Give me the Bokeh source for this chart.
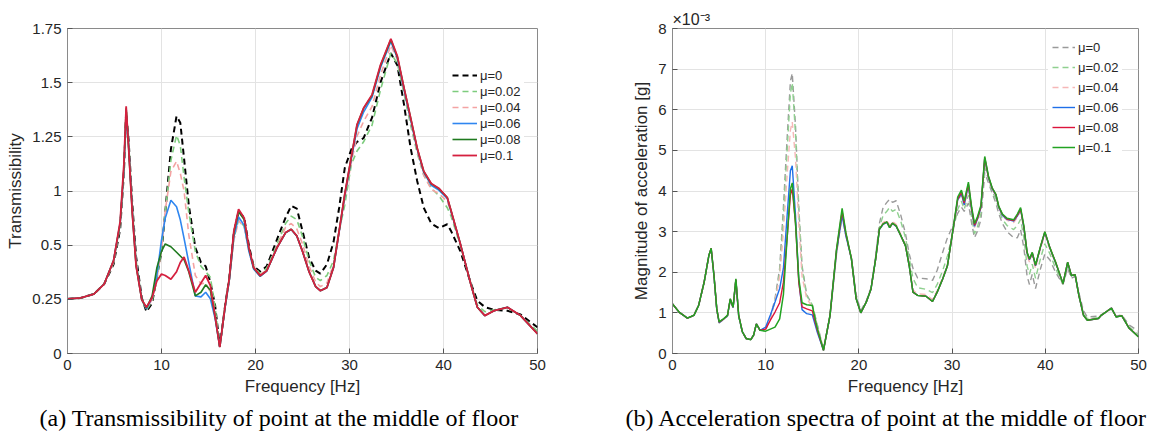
from bokeh.plotting import figure
from bokeh.models import (Legend, LegendItem, Title, FixedTicker,
                          Range1d, CustomJSTickFormatter)
from bokeh.layouts import row
from bokeh.embed import file_html
from bokeh.resources import INLINE

# ---------------- (a) Transmissibility ----------------
freq_a = [
    0, 1.4, 2.8, 3.9, 4.9, 5.6, 6.0, 6.24, 6.5, 6.9,
    7.3, 7.9, 8.4, 9.0, 9.5, 10.0, 10.4, 11.0, 11.6, 12.0,
    12.4, 12.9, 13.6, 14.2, 14.7, 15.2, 15.7, 16.2, 16.8, 17.2,
    17.7, 18.2, 18.8, 19.3, 19.8, 20.5, 21.2, 22.3, 23.2, 23.8,
    24.4, 25.0, 25.7, 26.4, 26.9, 27.6, 28.3, 28.9, 29.5, 30.2,
    30.8, 31.5, 32.4, 33.3, 34.4, 35.1, 35.8, 36.5, 37.2, 37.9,
    38.7, 39.5, 40.4, 40.8, 41.8, 42.9, 43.6, 44.4, 45.4, 46.8,
    48.2, 50]

trans_mu0 = [
    0.294, 0.299, 0.32, 0.374, 0.48, 0.67, 0.97, 1.30, 1.15, 0.80,
    0.52, 0.30, 0.225, 0.27, 0.41, 0.55, 0.76, 1.10, 1.278, 1.242,
    1.05, 0.80, 0.57, 0.49, 0.47, 0.383, 0.26, 0.04, 0.27, 0.40,
    0.65, 0.765, 0.73, 0.58, 0.47, 0.442, 0.47, 0.616, 0.732, 0.795,
    0.78, 0.66, 0.517, 0.446, 0.43, 0.48, 0.60, 0.785, 1.00, 1.10,
    1.14, 1.16, 1.27, 1.46, 1.617, 1.55, 1.34, 1.107, 0.929, 0.785,
    0.70, 0.675, 0.696, 0.66, 0.55, 0.38, 0.284, 0.25, 0.235, 0.23,
    0.21, 0.141]

trans_mu002 = [
    0.294, 0.299, 0.32, 0.374, 0.49, 0.69, 0.98, 1.31, 1.14, 0.78,
    0.50, 0.29, 0.235, 0.28, 0.40, 0.56, 0.76, 1.04, 1.175, 1.12,
    0.95, 0.76, 0.55, 0.47, 0.44, 0.41, 0.25, 0.035, 0.26, 0.39,
    0.62, 0.72, 0.685, 0.56, 0.47, 0.43, 0.46, 0.59, 0.70, 0.74,
    0.72, 0.63, 0.50, 0.41, 0.392, 0.42, 0.50, 0.66, 0.80, 1.02,
    1.09, 1.14, 1.23, 1.42, 1.617, 1.56, 1.40, 1.23, 1.08, 0.96,
    0.89, 0.85, 0.785, 0.74, 0.58, 0.38, 0.26, 0.225, 0.235, 0.245,
    0.205, 0.12]

trans_mu004 = [
    0.294, 0.299, 0.32, 0.374, 0.49, 0.69, 0.98, 1.30, 1.13, 0.77,
    0.49, 0.29, 0.24, 0.29, 0.40, 0.56, 0.77, 0.98, 1.035, 0.97,
    0.875, 0.64, 0.42, 0.375, 0.38, 0.33, 0.21, 0.035, 0.26, 0.39,
    0.61, 0.715, 0.68, 0.55, 0.465, 0.425, 0.45, 0.58, 0.68, 0.70,
    0.67, 0.59, 0.47, 0.385, 0.36, 0.38, 0.48, 0.66, 0.84, 1.03,
    1.17, 1.25, 1.33, 1.50, 1.66, 1.58, 1.42, 1.25, 1.09, 0.96,
    0.885, 0.86, 0.82, 0.76, 0.589, 0.374, 0.25, 0.205, 0.232, 0.248,
    0.204, 0.108]

trans_mu006 = [
    0.294, 0.299, 0.32, 0.374, 0.50, 0.70, 0.99, 1.29, 1.12, 0.76,
    0.48, 0.29, 0.24, 0.30, 0.42, 0.61, 0.73, 0.825, 0.79, 0.72,
    0.62, 0.49, 0.31, 0.305, 0.33, 0.295, 0.19, 0.035, 0.26, 0.39,
    0.63, 0.735, 0.69, 0.55, 0.455, 0.415, 0.444, 0.57, 0.65, 0.668,
    0.632, 0.55, 0.44, 0.36, 0.338, 0.355, 0.463, 0.655, 0.85, 1.05,
    1.21, 1.30, 1.38, 1.54, 1.68, 1.59, 1.42, 1.26, 1.10, 0.975,
    0.905, 0.88, 0.835, 0.765, 0.589, 0.374, 0.249, 0.204, 0.231, 0.249,
    0.204, 0.106]

trans_mu008 = [
    0.294, 0.299, 0.32, 0.374, 0.50, 0.70, 1.00, 1.32, 1.11, 0.75,
    0.47, 0.29, 0.245, 0.31, 0.46, 0.55, 0.59, 0.575, 0.545, 0.525,
    0.505, 0.44, 0.31, 0.33, 0.37, 0.34, 0.20, 0.035, 0.267, 0.40,
    0.65, 0.765, 0.72, 0.565, 0.46, 0.418, 0.446, 0.571, 0.651, 0.669,
    0.633, 0.55, 0.44, 0.36, 0.338, 0.355, 0.463, 0.66, 0.86, 1.06,
    1.23, 1.32, 1.39, 1.55, 1.69, 1.595, 1.43, 1.27, 1.105, 0.98,
    0.913, 0.888, 0.84, 0.77, 0.589, 0.374, 0.249, 0.204, 0.231, 0.249,
    0.204, 0.106]

trans_mu01 = [
    0.294, 0.299, 0.32, 0.374, 0.50, 0.71, 1.02, 1.331, 1.11, 0.75,
    0.47, 0.29, 0.249, 0.30, 0.39, 0.428, 0.42, 0.40, 0.44, 0.49,
    0.52, 0.446, 0.33, 0.38, 0.42, 0.365, 0.20, 0.034, 0.267, 0.40,
    0.66, 0.777, 0.73, 0.57, 0.463, 0.419, 0.446, 0.571, 0.651, 0.669,
    0.633, 0.55, 0.44, 0.36, 0.338, 0.355, 0.463, 0.66, 0.86, 1.06,
    1.233, 1.322, 1.394, 1.555, 1.695, 1.60, 1.43, 1.27, 1.107, 0.982,
    0.915, 0.89, 0.84, 0.77, 0.589, 0.374, 0.249, 0.204, 0.231, 0.249,
    0.204, 0.106]

y_tick_labels_a = ["0", "0.25", "0.5", "1", "1.25", "1.5", "1.75"]

# ---------------- (b) Acceleration spectra (x10^-3 g) ----------------
freq_b = [
    0, 0.7, 1.6, 2.3, 2.8, 3.4, 3.9, 4.15, 4.45, 4.75,
    5.0, 5.5, 5.9, 6.2, 6.5, 6.8, 7.1, 7.5, 7.9, 8.4,
    8.7, 9.0, 9.4, 10.0, 10.5, 11.0, 11.5, 11.9, 12.3, 12.65,
    12.85, 13.2, 13.55, 13.9, 14.4, 15.0, 15.5, 16.2, 16.9, 17.6,
    18.2, 18.6, 19.2, 19.7, 20.2, 20.8, 21.3, 21.8, 22.2, 22.6,
    23.0, 23.3, 23.6, 24.0, 24.5, 25.0, 25.4, 25.8, 26.3, 27.2,
    27.9, 28.4, 29.0, 29.5, 30.0, 30.6, 31.0, 31.3, 31.75, 32.1,
    32.4, 32.7, 33.1, 33.5, 33.9, 34.3, 34.7, 35.0, 35.4, 35.9,
    36.6, 37.0, 37.35, 37.7, 38.05, 38.3, 38.6, 38.95, 39.5, 39.95,
    40.5, 41.1, 41.9, 42.4, 42.8, 43.2, 43.6, 44.1, 44.5, 45.7,
    46.0, 47.1, 47.6, 48.2, 49.0, 50]

acc_mu0 = [
    1.22, 1.02, 0.87, 0.94, 1.18, 1.76, 2.41, 2.57, 1.90, 1.08,
    0.75, 0.84, 0.92, 1.32, 1.12, 1.80, 0.92, 0.52, 0.36, 0.34,
    0.45, 0.72, 0.57, 0.60, 0.90, 1.35, 2.10, 3.60, 5.30, 6.70,
    6.90, 5.60, 3.60, 2.16, 1.45, 1.20, 0.75, 0.10, 0.92, 2.45,
    3.40, 2.90, 2.35, 1.45, 1.05, 1.30, 1.62, 2.40, 3.20, 3.60,
    3.72, 3.80, 3.72, 3.76, 3.40, 2.95, 2.45, 2.10, 1.86, 1.84,
    1.80, 2.05, 2.50, 2.85, 3.10, 3.45, 3.60, 3.50, 3.70, 3.20,
    2.85, 3.00, 3.30, 4.45, 4.20, 3.95, 3.70, 3.45, 3.20, 3.00,
    2.85, 2.85, 3.05, 2.60, 1.90, 1.70, 1.95, 1.60, 2.10, 2.45,
    2.30, 2.00, 1.70, 2.10, 1.85, 1.90, 1.50, 1.05, 0.90, 0.92,
    0.95, 1.10, 0.92, 0.95, 0.70, 0.55]

acc_mu002 = [
    1.22, 1.02, 0.87, 0.94, 1.18, 1.76, 2.41, 2.58, 1.91, 1.09,
    0.76, 0.85, 0.93, 1.33, 1.13, 1.81, 0.93, 0.53, 0.37, 0.34,
    0.45, 0.73, 0.57, 0.60, 0.88, 1.30, 2.00, 3.40, 5.00, 6.40,
    6.66, 5.40, 3.50, 2.10, 1.42, 1.20, 0.72, 0.10, 0.92, 2.50,
    3.45, 2.95, 2.35, 1.40, 1.02, 1.28, 1.60, 2.35, 3.10, 3.40,
    3.50, 3.60, 3.50, 3.55, 3.25, 2.85, 2.35, 1.85, 1.62, 1.58,
    1.50, 1.70, 2.05, 2.40, 2.90, 3.55, 3.75, 3.55, 3.90, 3.35,
    2.95, 3.10, 3.45, 4.60, 4.28, 4.00, 3.80, 3.55, 3.30, 3.15,
    3.05, 3.15, 3.30, 2.85, 2.15, 1.95, 2.20, 1.85, 2.35, 2.70,
    2.45, 2.10, 1.70, 2.15, 1.90, 1.92, 1.45, 0.98, 0.86, 0.88,
    0.95, 1.10, 0.90, 0.94, 0.65, 0.48]

acc_mu004 = [
    1.22, 1.02, 0.87, 0.94, 1.18, 1.76, 2.41, 2.58, 1.91, 1.09,
    0.76, 0.85, 0.93, 1.33, 1.13, 1.81, 0.93, 0.53, 0.37, 0.34,
    0.45, 0.73, 0.57, 0.60, 0.88, 1.28, 1.90, 3.00, 4.40, 5.50,
    5.70, 4.80, 3.20, 1.90, 1.35, 1.15, 0.70, 0.10, 0.93, 2.52,
    3.45, 2.95, 2.35, 1.38, 1.01, 1.27, 1.59, 2.33, 3.06, 3.22,
    3.28, 3.15, 3.25, 3.18, 2.93, 2.68, 2.20, 1.56, 1.47, 1.45,
    1.33, 1.55, 1.87, 2.20, 2.90, 3.75, 3.90, 3.65, 4.05, 3.50,
    3.10, 3.25, 3.55, 4.75, 4.32, 4.04, 3.88, 3.60, 3.38, 3.28,
    3.22, 3.35, 3.50, 3.05, 2.40, 2.25, 2.42, 2.10, 2.60, 2.92,
    2.55, 2.22, 1.72, 2.22, 1.92, 1.94, 1.44, 0.95, 0.83, 0.87,
    0.94, 1.11, 0.91, 0.94, 0.63, 0.43]

acc_mu006 = [
    1.22, 1.02, 0.87, 0.94, 1.18, 1.76, 2.41, 2.58, 1.91, 1.09,
    0.76, 0.85, 0.93, 1.33, 1.13, 1.81, 0.93, 0.53, 0.37, 0.34,
    0.45, 0.73, 0.57, 0.65, 0.95, 1.27, 1.60, 2.10, 3.40, 4.50,
    4.62, 3.40, 1.80, 1.08, 0.98, 0.95, 0.55, 0.08, 0.93, 2.52,
    3.40, 2.90, 2.33, 1.36, 1.00, 1.27, 1.59, 2.33, 3.05, 3.18,
    3.23, 3.10, 3.20, 3.13, 2.90, 2.65, 2.16, 1.51, 1.43, 1.41,
    1.28, 1.51, 1.84, 2.16, 2.90, 3.78, 3.93, 3.66, 4.14, 3.53,
    3.13, 3.29, 3.60, 4.80, 4.34, 4.06, 3.90, 3.61, 3.40, 3.30,
    3.26, 3.38, 3.55, 3.10, 2.47, 2.31, 2.47, 2.16, 2.63, 2.98,
    2.59, 2.24, 1.72, 2.24, 1.92, 1.94, 1.43, 0.94, 0.82, 0.86,
    0.94, 1.12, 0.90, 0.93, 0.62, 0.42]

acc_mu008 = [
    1.22, 1.02, 0.87, 0.94, 1.18, 1.76, 2.41, 2.59, 1.92, 1.10,
    0.77, 0.85, 0.94, 1.34, 1.14, 1.82, 0.94, 0.53, 0.37, 0.34,
    0.45, 0.73, 0.57, 0.60, 0.82, 1.02, 1.25, 1.75, 2.85, 3.90,
    4.05, 3.20, 1.75, 1.15, 1.10, 1.05, 0.60, 0.08, 0.94, 2.55,
    3.50, 2.95, 2.33, 1.35, 1.00, 1.27, 1.59, 2.33, 3.06, 3.19,
    3.24, 3.10, 3.21, 3.14, 2.90, 2.65, 2.16, 1.51, 1.43, 1.41,
    1.28, 1.51, 1.84, 2.16, 2.90, 3.80, 3.97, 3.70, 4.17, 3.56,
    3.16, 3.31, 3.62, 4.82, 4.35, 4.07, 3.91, 3.62, 3.42, 3.31,
    3.27, 3.40, 3.56, 3.12, 2.48, 2.32, 2.48, 2.17, 2.64, 2.99,
    2.60, 2.25, 1.72, 2.25, 1.92, 1.94, 1.43, 0.94, 0.82, 0.86,
    0.94, 1.12, 0.90, 0.93, 0.62, 0.41]

acc_mu01 = [
    1.22, 1.02, 0.87, 0.94, 1.18, 1.76, 2.41, 2.59, 1.92, 1.10,
    0.78, 0.86, 0.94, 1.35, 1.14, 1.84, 0.94, 0.53, 0.37, 0.34,
    0.45, 0.73, 0.57, 0.55, 0.60, 0.65, 0.85, 1.45, 2.85, 4.05,
    4.20, 3.20, 1.85, 1.25, 1.20, 1.18, 0.65, 0.08, 0.94, 2.57,
    3.57, 2.98, 2.33, 1.35, 1.00, 1.27, 1.59, 2.33, 3.06, 3.19,
    3.24, 3.10, 3.21, 3.14, 2.90, 2.65, 2.16, 1.51, 1.43, 1.41,
    1.28, 1.51, 1.84, 2.16, 2.90, 3.85, 4.02, 3.75, 4.22, 3.60,
    3.20, 3.35, 3.65, 4.85, 4.37, 4.08, 3.92, 3.63, 3.43, 3.33,
    3.29, 3.43, 3.59, 3.14, 2.49, 2.33, 2.49, 2.18, 2.65, 3.00,
    2.60, 2.25, 1.72, 2.25, 1.92, 1.94, 1.43, 0.94, 0.82, 0.86,
    0.94, 1.12, 0.90, 0.93, 0.62, 0.41]

mu_labels = ["\u03bc=0", "\u03bc=0.02", "\u03bc=0.04", "\u03bc=0.06", "\u03bc=0.08", "\u03bc=0.1"]

SANS = "Liberation Sans"
TXT = "#262626"
FRAME = "#8a8a8a"
GRID = "#e3e3e3"


def style(p, xt, yt):
    p.background_fill_color = "white"
    p.border_fill_color = "white"
    p.outline_line_color = FRAME
    p.outline_line_width = 1
    for ax in p.xaxis + p.yaxis:
        ax.major_label_text_font = SANS
        ax.major_label_text_font_size = "15px"
        ax.major_label_text_color = TXT
        ax.axis_label_text_font = SANS
        ax.axis_label_text_font_size = "17px"
        ax.axis_label_text_font_style = "normal"
        ax.axis_label_text_color = TXT
        ax.axis_line_color = FRAME
        ax.major_tick_line_color = "#555555"
        ax.major_tick_in = 5
        ax.major_tick_out = 0
        ax.minor_tick_line_color = None
        ax.major_label_standoff = 6
        ax.axis_label_standoff = 4
    p.xaxis.ticker = FixedTicker(ticks=xt)
    p.yaxis.ticker = FixedTicker(ticks=yt)
    p.xgrid.ticker = FixedTicker(ticks=xt)
    p.ygrid.ticker = FixedTicker(ticks=yt)
    p.xgrid.grid_line_color = GRID
    p.ygrid.grid_line_color = GRID


def caption(p, text, offset):
    p.add_layout(Title(text=text, align="left", offset=offset, standoff=9,
                       text_font="Liberation Serif", text_font_size="24px",
                       text_font_style="normal", text_color="black"), "below")


xt = [0, 10, 20, 30, 40, 50]

# ---------- figure (a) ----------
pa = figure(width=600, height=435, x_range=Range1d(0, 50), y_range=Range1d(0, 1.75),
            output_backend="svg", toolbar_location=None,
            min_border_left=67, min_border_right=63, min_border_top=27, min_border_bottom=82)
pa.xaxis.axis_label = "Frequency [Hz]"
pa.yaxis.axis_label = "Transmissibility"
yt_a = [i * 1.75 / 6 for i in range(7)]
style(pa, xt, yt_a)
pa.yaxis[0].formatter = CustomJSTickFormatter(args=dict(labs=y_tick_labels_a),
                                              code="return labs[Math.round(tick*6/1.75)];")

series_a = [
    (trans_mu0, "black", "6 4", 2.0),
    (trans_mu002, "#7dcc7d", "6 4", 1.6),
    (trans_mu004, "#f4a3a3", "6 4", 1.6),
    (trans_mu006, "#2f86f0", "solid", 1.6),
    (trans_mu008, "#1f7a1f", "solid", 1.6),
    (trans_mu01, "#d5203f", "solid", 1.8),
]
items_a = []
for (ys, col, dash, lw), lab in zip(series_a, mu_labels):
    r = pa.line(freq_a, ys, line_color=col, line_dash=dash, line_width=lw)
    items_a.append(LegendItem(label=lab, renderers=[r]))

leg_a = Legend(items=items_a, location=(381, 186), background_fill_color="white",
               background_fill_alpha=1.0, border_line_alpha=0, label_text_font=SANS,
               label_text_font_size="13px", label_text_color=TXT, glyph_width=25,
               glyph_height=16, label_height=16, spacing=0, padding=4, margin=0,
               label_standoff=3)
pa.add_layout(leg_a, "center")
caption(pa, "(a) Transmissibility of point at the middle of floor", -28)

# ---------- figure (b) ----------
pb = figure(width=555, height=435, x_range=Range1d(0, 50), y_range=Range1d(0, 8),
            output_backend="svg", toolbar_location=None,
            min_border_left=72, min_border_right=17, min_border_top=28, min_border_bottom=80)
pb.xaxis.axis_label = "Frequency [Hz]"
pb.yaxis.axis_label = "Magnitude of acceleration [g]"
style(pb, xt, [0, 1, 2, 3, 4, 5, 6, 7, 8])

series_b = [
    (acc_mu0, "#9a9a9a", "6 4", 1.4),
    (acc_mu002, "#8fd08f", "6 4", 1.4),
    (acc_mu004, "#f6b7b7", "6 4", 1.4),
    (acc_mu006, "#1f6fe8", "solid", 1.4),
    (acc_mu008, "#dc143c", "solid", 1.4),
    (acc_mu01, "#22a322", "solid", 1.5),
]
items_b = []
for (ys, col, dash, lw), lab in zip(series_b, mu_labels):
    r = pb.line(freq_b, ys, line_color=col, line_dash=dash, line_width=lw)
    items_b.append(LegendItem(label=lab, renderers=[r]))

leg_b = Legend(items=items_b, location=(376, 192), background_fill_color="white",
               background_fill_alpha=1.0, border_line_alpha=0, label_text_font=SANS,
               label_text_font_size="13px", label_text_color=TXT, glyph_width=23,
               glyph_height=20, label_height=20, spacing=0, padding=4, margin=0,
               label_standoff=3)
pb.add_layout(leg_b, "center")

pb.add_layout(Title(text="\u00d710\u207b\u00b3", align="left", offset=0, standoff=2,
                    text_font=SANS, text_font_size="16px", text_font_style="normal",
                    text_color=TXT), "above")
caption(pb, "(b) Acceleration spectra of point at the middle of floor", -47)

layout = row(pa, pb)
open("out.html", "w").write(file_html(layout, INLINE))
